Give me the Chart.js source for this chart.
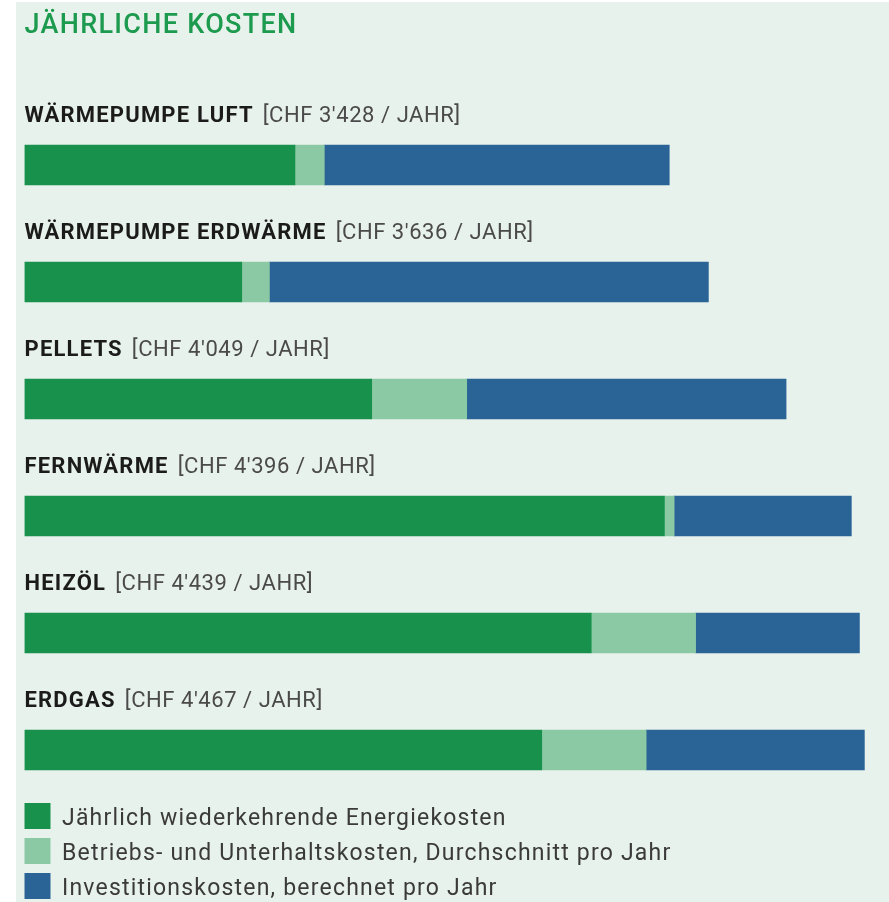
<!DOCTYPE html>
<html lang="de">
<head>
<meta charset="UTF-8">
<title>Jährliche Kosten</title>
<script src="https://cdn.jsdelivr.net/npm/chart.js@4.4.0/dist/chart.umd.min.js"></script>
<style>
    html, body { margin: 0; padding: 0; background: #ffffff; }
    #kosten { display: block; }
</style>
</head>
<body>
<canvas id="kosten" width="889" height="902"></canvas>
<script>
// Daten (CHF pro Jahr)
const heizungen = ['WÄRMEPUMPE LUFT', 'WÄRMEPUMPE ERDWÄRME', 'PELLETS', 'FERNWÄRME', 'HEIZÖL', 'ERDGAS'];
const energiekosten = [1438, 1155, 1846, 3402, 3013, 2750];
const betriebskosten = [156, 147, 505, 52, 555, 555];
const investitionskosten = [1834, 2334, 1698, 942, 871, 1162];
const serienNamen = [
    'Jährlich wiederkehrende Energiekosten',
    'Betriebs- und Unterhaltskosten, Durchschnitt pro Jahr',
    'Investitionskosten, berechnet pro Jahr'
];
const farben = ['#17914b', '#8bc9a4', '#2a6497'];
const titel = 'JÄHRLICHE KOSTEN';

const FONT = 'Roboto, "Open Sans", sans-serif';

function chf(n) {
    return String(n).replace(/\B(?=(\d{3})+(?!\d))/g, "'");
}

// Hintergrund, Titel, Beschriftungen und Legende
const rahmen = {
    id: 'rahmen',
    beforeDraw(chart) {
        const c = chart.ctx;
        c.save();
        c.fillStyle = '#e8f2ec';
        c.fillRect(16, 2, chart.width - 16, chart.height - 2);
        c.restore();
    },
    afterDraw(chart) {
        const c = chart.ctx;
        const area = chart.chartArea;
        const y = chart.scales.y;
        c.save();
        c.textBaseline = 'alphabetic';
        c.textAlign = 'left';

        // Titel
        c.fillStyle = '#1c9a4e';
        c.font = '500 27px ' + FONT;
        c.letterSpacing = '1.3px';
        c.fillText(titel, area.left, 33);

        // Kategorien über den Balken
        heizungen.forEach(function (name, i) {
            const total = chart.data.datasets.reduce((s, d) => s + d.data[i], 0);
            const base = y.getPixelForValue(i) - 43;
            c.font = 'bold 22px ' + FONT;
            c.letterSpacing = '1.2px';
            c.fillStyle = '#1b1b1b';
            c.fillText(name, area.left, base);
            const w = c.measureText(name).width;
            c.font = '22px ' + FONT;
            c.letterSpacing = '0.55px';
            c.fillStyle = '#4a4a4a';
            c.fillText('[CHF ' + chf(total) + ' / JAHR]', area.left + w + 9, base);
        });

        // Legende
        chart.data.datasets.forEach(function (ds, i) {
            const top = 803 + i * 35;
            c.fillStyle = ds.backgroundColor;
            c.fillRect(area.left, top, 26, 26);
            c.font = '23px ' + FONT;
            c.letterSpacing = '1.2px';
            c.fillStyle = '#3a3a3a';
            c.fillText(ds.label, 62, top + 22);
        });
        c.restore();
    }
};

const datensaetze = [energiekosten, betriebskosten, investitionskosten].map(function (werte, i) {
    return {
        label: serienNamen[i],
        data: werte,
        backgroundColor: farben[i],
        borderWidth: 0,
        barThickness: 40
    };
});

new Chart(document.getElementById('kosten'), {
    type: 'bar',
    data: {
        labels: heizungen,
        datasets: datensaetze
    },
    options: {
        indexAxis: 'y',
        responsive: false,
        animation: false,
        devicePixelRatio: 1,
        layout: {
            padding: { left: 24.5, right: 24.3, top: 106.5, bottom: 93.5 }
        },
        scales: {
            x: { stacked: true, min: 0, max: 4467, display: false },
            y: { stacked: true, display: false }
        },
        plugins: {
            legend: { display: false },
            tooltip: { enabled: false }
        }
    },
    plugins: [rahmen]
});
</script>
</body>
</html>
